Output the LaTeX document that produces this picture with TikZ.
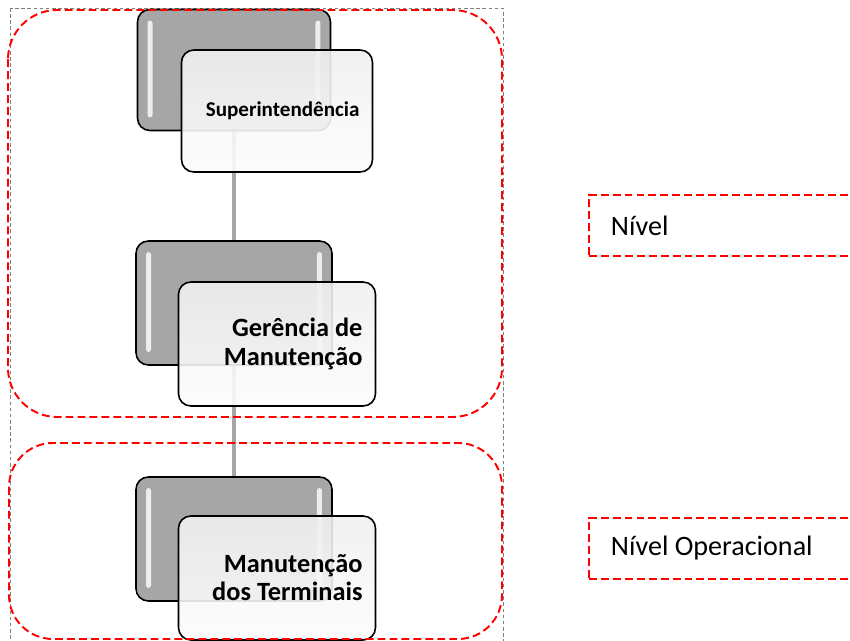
\documentclass[tikz,border=0pt]{standalone}
\usepackage{fontspec}
\setmainfont{Carlito}
\usepackage{tikz}
\usetikzlibrary{backgrounds}

\tikzset{
  backbox/.style={draw=black, line width=0.9pt, fill=black!35, rounded corners=7pt,
    minimum width=3.92cm, minimum height=2.48cm,
    path picture={
      \fill[white, fill opacity=0.8, rounded corners=1.5pt]
        ([shift={(10,11)}]path picture bounding box.north west) rectangle
        ([shift={(15,-13)}]path picture bounding box.south west);
      \fill[white, fill opacity=0.8, rounded corners=1.5pt]
        ([shift={(-15,11)}]path picture bounding box.north east) rectangle
        ([shift={(-10,-13)}]path picture bounding box.south east);
    }},
  frontbox/.style={draw=black, line width=0.9pt, rounded corners=7pt,
    top color=black!6, bottom color=black!1, fill opacity=0.9, text opacity=1,
    minimum width=3.94cm, minimum height=2.48cm, inner xsep=0.26cm,
    text width=3.42cm, align=flush right, font=\bfseries\fontsize{15}{16}\selectfont},
  grp/.style={draw=red, line width=1.1pt, dash pattern=on 4.5pt off 2.3pt},
  lvl/.style={grp, anchor=west, minimum width=5.8cm, minimum height=1.22cm,
    inner xsep=0.44cm, text width=4.92cm, align=flush left, font=\fontsize{16}{18}\selectfont},
  conn/.style={draw=black!35, line width=1.8pt}
}

\begin{document}
\begin{tikzpicture}[x=0.02cm, y=-0.02cm]
\clip (0,0) rectangle (850,641);
\draw[black!50, line width=0.5pt, dash pattern=on 2pt off 1.5pt] (10,8) rectangle (503,700);

\node[backbox, minimum width=3.86cm, minimum height=2.42cm] (back1) at (234,70) {};
\node[backbox] (back2) at (234,303) {};
\node[backbox] (back3) at (234,539) {};

\begin{scope}[on background layer]
\draw[conn] (back1.center) -- (back2.center);
\draw[conn] (back2.center) -- (back3.center);
\end{scope}

\node[frontbox, minimum width=3.82cm, minimum height=2.44cm, text width=3.30cm,
  font=\bfseries\fontsize{12}{14}\selectfont] (sup) at (277,111) {Superintendência};
\node[frontbox] (ger) at (277,344) {Gerência de\\Manutenção};
\node[frontbox] (term) at (277,578) {Manutenção\\dos Terminais};

\draw[grp, rounded corners=28pt] (8,10) rectangle (502,417);
\draw[grp, rounded corners=25pt] (9,443) rectangle (502,639);

\node[lvl] (lvltop) at (588,225.5) {Nível};
\node[lvl] (lvlop) at (588,548.5) {Nível Operacional};
\end{tikzpicture}
\end{document}
